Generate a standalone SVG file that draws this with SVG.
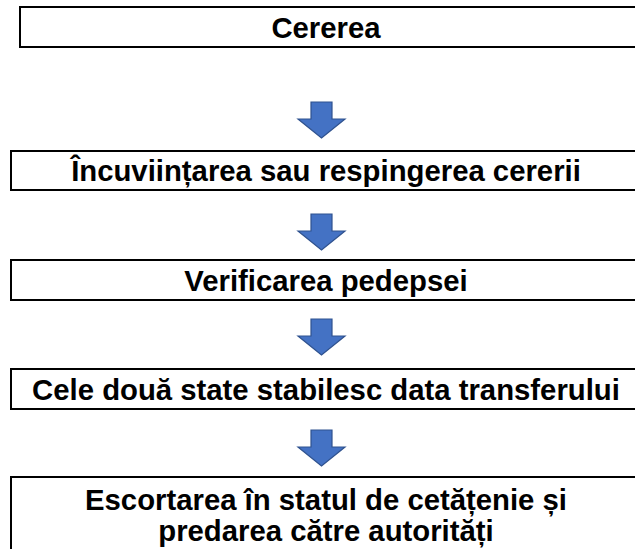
<svg xmlns="http://www.w3.org/2000/svg" width="635" height="549" viewBox="0 0 635 549">
<style>
.box{fill:#fff;stroke:#000;stroke-width:2}
.t{font-family:"Liberation Sans",Arial,sans-serif;font-weight:bold;font-size:29.3px;fill:#000;text-anchor:middle}
.arr{fill:#4472C4;stroke:#2F528F;stroke-width:1.2;stroke-linejoin:miter}
</style>
<defs>
<path id="down" d="M-10.5,0 H10.5 V17 H23.5 L0,36 L-23.5,17 H-10.5 Z"/>
</defs>
<rect width="635" height="549" fill="#fff"/>
<g id="n1"><rect class="box" x="20" y="7" width="630" height="40"/><text class="t" x="326" y="37.5">Cererea</text></g>
<g id="n2"><rect class="box" x="11" y="151" width="640" height="39"/><text class="t" x="326" y="181">Încuviințarea sau respingerea cererii</text></g>
<g id="n3"><rect class="box" x="11" y="260" width="640" height="40"/><text class="t" x="326" y="290.5">Verificarea pedepsei</text></g>
<g id="n4"><rect class="box" x="11" y="369" width="640" height="40"/><text class="t" x="326" y="399.5">Cele două state stabilesc data transferului</text></g>
<g id="n5"><rect class="box" x="11" y="477" width="640" height="90"/><text class="t" x="326" y="510">Escortarea în statul de cetățenie și</text><text class="t" x="326" y="541">predarea către autorități</text></g>
<g id="connectors">
<use href="#down" class="arr" x="321.5" y="102"/>
<use href="#down" class="arr" x="321.5" y="214"/>
<use href="#down" class="arr" x="321.5" y="319"/>
<use href="#down" class="arr" x="321.5" y="430"/>
</g>
</svg>
